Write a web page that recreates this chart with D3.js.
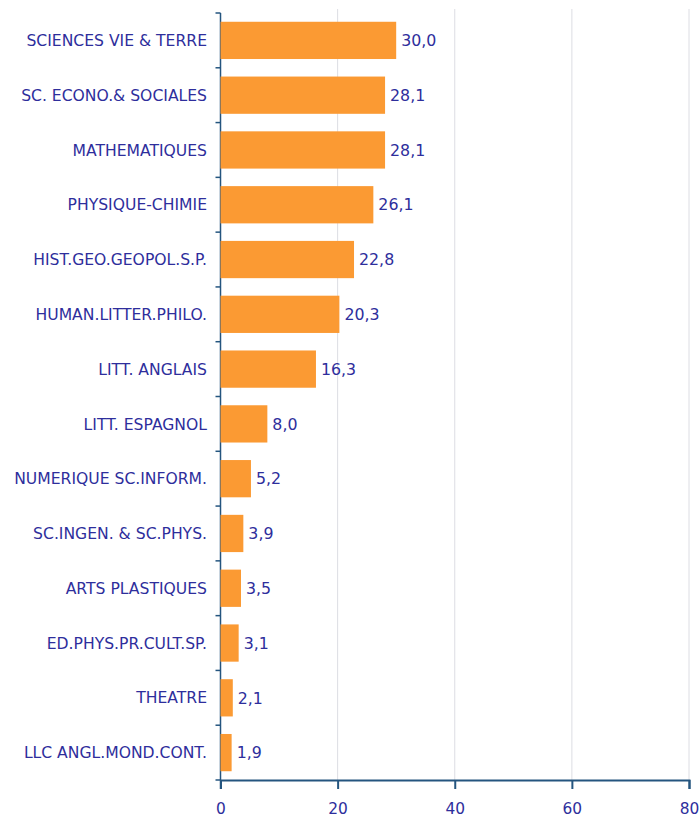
<!DOCTYPE html>
<html>
<head>
<meta charset="utf-8">
<script src="https://cdn.jsdelivr.net/npm/d3@7"></script>
<style>
  html, body { margin: 0; padding: 0; background: #fff; }
  svg { display: block; }
</style>
</head>
<body>
<svg id="chart" width="699" height="819"></svg>
<script>
// Subjects and their shares (%)
const subjects = [
  "SCIENCES VIE & TERRE",
  "SC. ECONO.& SOCIALES",
  "MATHEMATIQUES",
  "PHYSIQUE-CHIMIE",
  "HIST.GEO.GEOPOL.S.P.",
  "HUMAN.LITTER.PHILO.",
  "LITT. ANGLAIS",
  "LITT. ESPAGNOL",
  "NUMERIQUE SC.INFORM.",
  "SC.INGEN. & SC.PHYS.",
  "ARTS PLASTIQUES",
  "ED.PHYS.PR.CULT.SP.",
  "THEATRE",
  "LLC ANGL.MOND.CONT."
];
const shares = [30.0, 28.1, 28.1, 26.1, 22.8, 20.3, 16.3, 8.0, 5.2, 3.9, 3.5, 3.1, 2.1, 1.9];
const xTicks = [0, 20, 40, 60, 80];

const plotTop = 13, plotBottom = 780, plotLeft = 220.5, plotRight = 689;

const svg = d3.select("#chart");
const textColor = "#2e2e9c";
const axisColor = "#24557f";
const font = "DejaVu Sans, Verdana, sans-serif";

const x = d3.scaleLinear().domain([0, 80]).range([plotLeft, plotRight]);
const y = d3.scaleBand().domain(subjects).range([plotTop, plotBottom])
  .paddingInner(0.32).paddingOuter(0.16);

// vertical gridlines
svg.append("g").selectAll("line").data(xTicks.slice(1)).join("line")
  .attr("x1", d => x(d)).attr("x2", d => x(d))
  .attr("y1", 9).attr("y2", plotBottom)
  .attr("stroke", "#dcdde3").attr("stroke-width", 1);

// y axis line and ticks between categories
const yAxisG = svg.append("g");
yAxisG.append("line")
  .attr("x1", plotLeft).attr("x2", plotLeft)
  .attr("y1", plotTop).attr("y2", plotBottom + 9)
  .attr("stroke", axisColor).attr("stroke-width", 1.5);
const boundaries = d3.range(subjects.length + 1).map(i => plotTop + i * y.step());
yAxisG.selectAll("line.tk").data(boundaries).join("line").attr("class", "tk")
  .attr("x1", plotLeft - 5).attr("x2", plotLeft)
  .attr("y1", d => d).attr("y2", d => d)
  .attr("stroke", axisColor).attr("stroke-width", 1.5);

// bars
svg.append("g").selectAll("rect").data(subjects).join("rect")
  .attr("x", x(0))
  .attr("y", d => y(d))
  .attr("width", (d, i) => x(shares[i]) - x(0))
  .attr("height", y.bandwidth())
  .attr("fill", "#fb9a33");

// value labels
svg.append("g").selectAll("text").data(subjects).join("text")
  .attr("x", (d, i) => x(shares[i]) + 5)
  .attr("y", d => y(d) + y.bandwidth() / 2)
  .attr("dy", "0.36em")
  .attr("fill", textColor)
  .attr("font-family", font).attr("font-size", 15.8)
  .text((d, i) => shares[i].toFixed(1).replace(".", ","));

// category labels
svg.append("g").selectAll("text").data(subjects).join("text")
  .attr("x", 207)
  .attr("y", d => y(d) + y.bandwidth() / 2)
  .attr("dy", "0.36em")
  .attr("text-anchor", "end")
  .attr("fill", textColor)
  .attr("font-family", font).attr("font-size", 15.6)
  .text(d => d);

// x axis
const xAxis = d3.axisBottom(x).tickValues(xTicks).tickSize(9).tickFormat(d3.format("d"));
const xg = svg.append("g").attr("transform", `translate(0,${plotBottom})`).call(xAxis);
xg.select(".domain").attr("stroke", axisColor).attr("stroke-width", 2);
xg.selectAll(".tick line").attr("stroke", axisColor).attr("stroke-width", 2);
xg.selectAll(".tick text").attr("fill", textColor).attr("font-family", font).attr("font-size", 15.4)
  .attr("y", 23).attr("dy", "0.71em");
</script>
</body>
</html>
